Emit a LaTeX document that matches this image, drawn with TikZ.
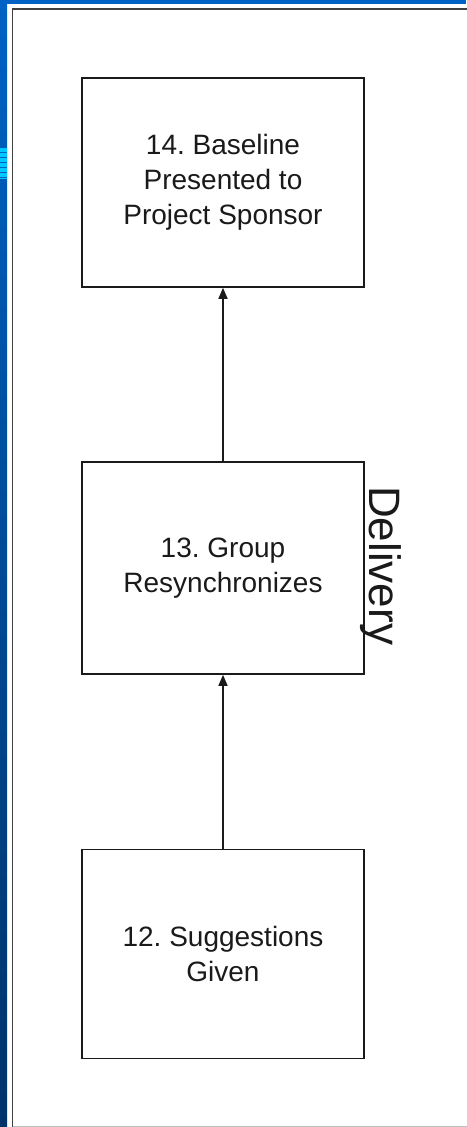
\documentclass[tikz,border=0pt]{standalone}
\usepackage{fontspec}
\setmainfont{Liberation Sans}
\usetikzlibrary{arrows.meta}
\definecolor{topblue}{HTML}{0062C4}
\definecolor{botblue}{HTML}{00336A}
\definecolor{stripecyan}{HTML}{00C8FF}
\definecolor{inkgray}{HTML}{1A1A1A}
\frenchspacing
\begin{document}
\begin{tikzpicture}[x=1pt,y=-1pt,
  stepbox/.style={draw=inkgray, line width=1.6pt, fill=white,
    minimum width=282pt, minimum height=209pt, inner sep=0pt,
    align=center, font=\fontsize{28}{35}\selectfont, text=inkgray},
  flow/.style={draw=inkgray, line width=1.5pt, -{Triangle[length=11pt,width=9pt]}},
  sidelabel/.style={rotate=-90, anchor=base west, inner sep=0pt,
    font=\fontsize{44}{44}\selectfont, text=inkgray}]
\useasboundingbox (0,0) rectangle (466,1127);
% background and frame
\fill[white] (0,0) rectangle (466,1127);
\shade[top color=topblue, bottom color=botblue] (0,0) rectangle (7,1127);
\fill[topblue] (0,0) rectangle (466,4);
\fill[stripecyan] (0,148) rectangle (7,179);
\foreach \yy in {152.5,157.5,...,177.5} \draw[topblue, line width=1pt] (0,\yy) -- (7,\yy);
\draw[black!75, line width=1.6pt] (12.5,1127) -- (12.5,9) -- (470,9);
\draw[black!25, line width=1pt] (12.5,1126.5) -- (470,1126.5);
% boxes
\node[stepbox] (s14) at (223,182.5) {14. Baseline\\Presented to\\Project Sponsor};
\node[stepbox, minimum height=212pt] (s13) at (223,568) {13. Group\\Resynchronizes};
\node[stepbox] (s12) at (223,954) {12. Suggestions\\Given};
\node[sidelabel] (dlv) at (369,486) {Delivery};
% connectors
\draw[flow] (s12.north) -- (s13.south);
\draw[flow] (s13.north) -- (s14.south);
\end{tikzpicture}
\end{document}
